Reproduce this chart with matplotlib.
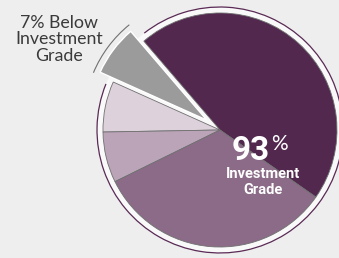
import matplotlib.pyplot as plt
from matplotlib.patches import Circle, Arc
import numpy as np

# slices, counterclockwise starting from the lower right
labels = ['Investment grade A', 'Below investment grade', 'Investment grade D',
          'Investment grade C', 'Investment grade B']
shares = [46, 7, 7, 7, 33]
colors = ['#52284e', '#9b9b9b', '#ddd1dc', '#bba4b8', '#8b6b88']
explode = [0, 0.14, 0, 0, 0]

fig = plt.figure(figsize=(3.39, 2.58), dpi=100, facecolor='#eeeeee')
ax = fig.add_axes([0, 0, 1, 1])
ax.set_facecolor('#eeeeee')

ring_r = 1.051
start = -35

# white backing disc + purple ring with a gap for the pulled-out slice
ax.add_patch(Circle((0, 0), ring_r, facecolor='#f9f9f9', edgecolor='none', zorder=0))
ax.add_patch(Arc((0, 0), 2 * ring_r, 2 * ring_r, theta1=158, theta2=128,
                 color='#5a2a55', lw=0.9, zorder=1))

wedges, _ = ax.pie(shares, colors=colors, startangle=start, counterclock=True,
                   explode=explode, radius=1, frame=True,
                   wedgeprops=dict(edgecolor='#707070', linewidth=0.6))
for w in wedges:
    w.set_zorder(2)
wedges[1].set_edgecolor('white')
wedges[1].set_linewidth(1.0)

# gray ring piece that follows the exploded slice
a0 = start + shares[0] * 3.6
a1 = a0 + shares[1] * 3.6
mid = np.deg2rad((a0 + a1) / 2)
cx, cy = explode[1] * np.cos(mid), explode[1] * np.sin(mid)
ax.add_patch(Arc((cx, cy), 2 * ring_r, 2 * ring_r, theta1=a0 - 1.5, theta2=a1 + 1.5,
                 color='#707070', lw=0.8, zorder=1))

ax.set_xlim(-1.880, 1.017)
ax.set_ylim(-1.094, 1.111)
ax.set_aspect('equal')
ax.axis('off')

ax.text(-1.376, 0.985, '7% Below\nInvestment\nGrade', ha='center', va='top',
        fontsize=12.8, color='#3a3a3a', family='Lato', linespacing=1.05)

ax.text(0.43, -0.256, '93', ha='right', va='baseline', fontsize=24,
        fontweight='bold', color='white', family='Roboto')
ax.text(0.44, -0.175, '%', ha='left', va='baseline', fontsize=15,
        color='white', family='Lato')
ax.text(0.368, -0.32, 'Investment\nGrade', ha='center', va='top', fontsize=10.5,
        fontweight='bold', color='white', family='Roboto', linespacing=1.15)

fig.savefig('out.png', dpi=100, facecolor=fig.get_facecolor())
